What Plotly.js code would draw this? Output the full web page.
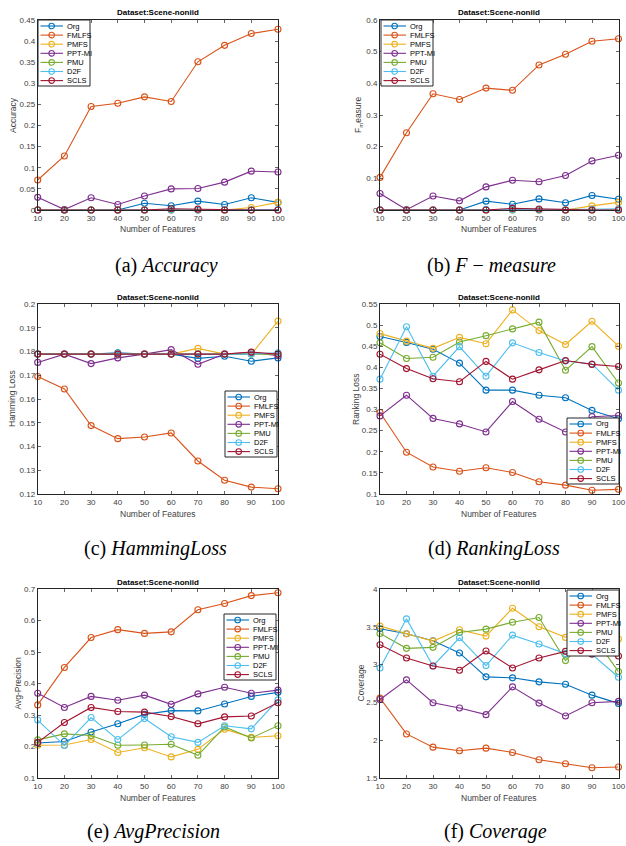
<!DOCTYPE html>
<html>
<head>
<meta charset="utf-8">
<script src="https://cdn.plot.ly/plotly-3.0.1.min.js"></script>
<style>html,body{margin:0;padding:0;background:#fff;}#chart{width:626px;height:846px;}</style>
</head>
<body>
<div id="chart"></div>
<script>
// ---------------- DATA ----------------
const features = [10, 20, 30, 40, 50, 60, 70, 80, 90, 100];
const methods = ['Org', 'FMLFS', 'PMFS', 'PPT-MI', 'PMU', 'D2F', 'SCLS'];

// order of rows: Org, FMLFS, PMFS, PPT-MI, PMU, D2F, SCLS
const accuracy = [
  [0, 0, 0, 0, 0.016, 0.010, 0.021, 0.013, 0.029, 0.018],
  [0.071, 0.128, 0.245, 0.253, 0.268, 0.257, 0.351, 0.390, 0.418, 0.428],
  [0, 0, 0, 0, 0, 0, 0, 0, 0.006, 0.018],
  [0.030, 0.001, 0.029, 0.013, 0.033, 0.050, 0.051, 0.066, 0.092, 0.090],
  [0, 0, 0, 0, 0, 0, 0, 0, 0, 0],
  [0, 0, 0, 0, 0, 0, 0, 0, 0, 0.001],
  [0, 0, 0, 0, 0, 0.003, 0.002, 0, 0, 0]
];
const fMeasure = [
  [0, 0, 0, 0, 0.028, 0.018, 0.035, 0.023, 0.046, 0.034],
  [0.103, 0.244, 0.367, 0.349, 0.385, 0.378, 0.458, 0.492, 0.533, 0.541],
  [0, 0, 0, 0, 0, 0, 0, 0, 0.013, 0.024],
  [0.052, 0.001, 0.044, 0.029, 0.073, 0.094, 0.089, 0.109, 0.155, 0.173],
  [0, 0, 0, 0, 0, 0, 0, 0, 0, 0],
  [0, 0, 0, 0, 0.002, 0.001, 0.001, 0, 0.002, 0.004],
  [0, 0, 0, 0, 0, 0.005, 0.003, 0, 0, 0]
];
const hammingLoss = [
  [0.1789, 0.1789, 0.1789, 0.1795, 0.1789, 0.1789, 0.1771, 0.1780, 0.1759, 0.1773],
  [0.1695, 0.1642, 0.1488, 0.1433, 0.1440, 0.1457, 0.1339, 0.1258, 0.1229, 0.1222],
  [0.1789, 0.1789, 0.1789, 0.1789, 0.1789, 0.1789, 0.1813, 0.1789, 0.1789, 0.1928],
  [0.1754, 0.1789, 0.1749, 0.1773, 0.1789, 0.1808, 0.1746, 0.1789, 0.1796, 0.1782],
  [0.1789, 0.1789, 0.1789, 0.1789, 0.1789, 0.1789, 0.1789, 0.1789, 0.1789, 0.1789],
  [0.1789, 0.1789, 0.1789, 0.1789, 0.1789, 0.1789, 0.1789, 0.1789, 0.1789, 0.1794],
  [0.1789, 0.1789, 0.1789, 0.1789, 0.1789, 0.1789, 0.1789, 0.1789, 0.1798, 0.1789]
];
const rankingLoss = [
  [0.473, 0.459, 0.443, 0.410, 0.346, 0.346, 0.334, 0.328, 0.298, 0.278],
  [0.293, 0.199, 0.164, 0.154, 0.162, 0.151, 0.129, 0.121, 0.109, 0.111],
  [0.480, 0.462, 0.445, 0.471, 0.456, 0.536, 0.487, 0.454, 0.509, 0.450],
  [0.285, 0.334, 0.279, 0.266, 0.247, 0.319, 0.277, 0.247, 0.283, 0.286],
  [0.458, 0.421, 0.424, 0.460, 0.475, 0.491, 0.507, 0.393, 0.449, 0.363],
  [0.372, 0.496, 0.379, 0.449, 0.379, 0.458, 0.435, 0.415, 0.408, 0.346],
  [0.431, 0.397, 0.373, 0.366, 0.414, 0.372, 0.394, 0.416, 0.407, 0.402]
];
const avgPrecision = [
  [0.211, 0.216, 0.246, 0.272, 0.302, 0.314, 0.313, 0.335, 0.359, 0.372],
  [0.332, 0.451, 0.546, 0.571, 0.559, 0.564, 0.634, 0.654, 0.679, 0.688],
  [0.204, 0.205, 0.222, 0.181, 0.196, 0.167, 0.191, 0.255, 0.229, 0.234],
  [0.369, 0.324, 0.359, 0.347, 0.363, 0.334, 0.367, 0.388, 0.369, 0.379],
  [0.221, 0.240, 0.235, 0.204, 0.205, 0.207, 0.172, 0.262, 0.227, 0.266],
  [0.284, 0.203, 0.292, 0.222, 0.289, 0.231, 0.213, 0.266, 0.256, 0.348],
  [0.213, 0.276, 0.324, 0.311, 0.309, 0.295, 0.272, 0.294, 0.297, 0.339]
];
const coverage = [
  [3.474, 3.408, 3.316, 3.154, 2.838, 2.825, 2.772, 2.741, 2.596, 2.487],
  [2.557, 2.083, 1.908, 1.860, 1.895, 1.838, 1.741, 1.689, 1.636, 1.645],
  [3.509, 3.408, 3.311, 3.461, 3.377, 3.746, 3.500, 3.360, 3.620, 3.338],
  [2.539, 2.798, 2.496, 2.425, 2.338, 2.706, 2.491, 2.320, 2.496, 2.513],
  [3.412, 3.215, 3.228, 3.425, 3.469, 3.561, 3.623, 3.053, 3.400, 2.908],
  [2.956, 3.605, 2.982, 3.355, 2.987, 3.390, 3.272, 3.145, 3.136, 2.833],
  [3.263, 3.088, 2.982, 2.925, 3.180, 2.956, 3.088, 3.175, 3.140, 3.114]
];

// ---------------- STYLE / LAYOUT ----------------
const colors = ['#0072BD', '#D95319', '#EDB120', '#7E2F8E', '#77AC30', '#4DBEEE', '#A2142F'];
const W = 626, H = 846;
const PX = v => v / W, PY = v => 1 - v / H;
const colX = [[37.7, 278], [380, 618.5]];
const rowY = [[20, 210], [304, 494], [589, 778]];
const capY = [265, 548, 831];
const sans = 'Liberation Sans, Arial, sans-serif';
const serif = 'Liberation Serif, Times New Roman, serif';

const panels = [
  {data: accuracy, yr: [0, 0.45], dt: 0.05, yt: 'Accuracy', ytx: 13, col: 0, row: 0, lg: [38, 20], cap: '(a) <i>Accuracy</i>', capx: 166},
  {data: fMeasure, yr: [0, 0.6], dt: 0.1, yt: 'F<sub>m</sub>easure', ytx: 358, col: 1, row: 0, lg: [381, 20], cap: '(b) <i>F</i> − <i>measure</i>', capx: 491},
  {data: hammingLoss, yr: [0.12, 0.2], dt: 0.01, yt: 'Hamming Loss', ytx: 12, col: 0, row: 1, lg: [225, 391], cap: '(c) <i>HammingLoss</i>', capx: 155},
  {data: rankingLoss, yr: [0.1, 0.55], dt: 0.05, yt: 'Ranking Loss', ytx: 356, col: 1, row: 1, lg: [567, 418], cap: '(d) <i>RankingLoss</i>', capx: 494},
  {data: avgPrecision, yr: [0.1, 0.7], dt: 0.1, yt: 'Avg-Precision', ytx: 17, col: 0, row: 2, lg: [224, 614], cap: '(e) <i>AvgPrecision</i>', capx: 153},
  {data: coverage, yr: [1.5, 4], dt: 0.5, yt: 'Coverage', ytx: 360, col: 1, row: 2, lg: [567, 590], cap: '(f) <i>Coverage</i>', capx: 495}
];

const traces = [];
const layout = {
  width: W, height: H,
  margin: {l: 0, r: 0, t: 0, b: 0},
  paper_bgcolor: '#ffffff', plot_bgcolor: '#ffffff',
  showlegend: false,
  annotations: [], shapes: []
};

const axisCommon = {
  ticks: 'inside', ticklen: 3, tickwidth: 0.7, tickcolor: '#262626',
  showline: true, linecolor: '#262626', linewidth: 1, mirror: 'ticks',
  showgrid: false, zeroline: false, fixedrange: true,
  ticklabeloverflow: 'allow',
  tickfont: {family: sans, size: 8, color: '#404040'}
};

panels.forEach((p, i) => {
  const n = i + 1;
  const xa = 'xaxis' + (n > 1 ? n : ''), ya = 'yaxis' + (n > 1 ? n : '');
  const xr = 'x' + (n > 1 ? n : ''), yr = 'y' + (n > 1 ? n : '');
  const [x0, x1] = colX[p.col];
  const [y0, y1] = rowY[p.row];
  layout[xa] = Object.assign({}, axisCommon, {
    domain: [PX(x0), PX(x1)], range: [10, 100], tick0: 10, dtick: 10, anchor: yr
  });
  layout[ya] = Object.assign({}, axisCommon, {
    domain: [PY(y1), PY(y0)], range: p.yr, tick0: p.yr[0], dtick: p.dt, anchor: xr
  });
  p.data.forEach((vals, m) => {
    traces.push({
      x: features, y: vals, name: methods[m], xaxis: xr, yaxis: yr,
      type: 'scatter', mode: 'lines+markers', cliponaxis: false,
      line: {color: colors[m], width: 1.1},
      marker: {symbol: 'circle-open', size: 6, color: colors[m], line: {width: 1.1, color: colors[m]}},
      hoverinfo: 'skip'
    });
  });
  // subplot title
  layout.annotations.push({
    xref: 'paper', yref: 'paper', x: PX((x0 + x1) / 2), y: PY(y0 - 7),
    text: '<b>Dataset:Scene-noniid</b>', showarrow: false,
    font: {family: sans, size: 8, color: '#000'}, xanchor: 'center', yanchor: 'middle'
  });
  // x title
  layout.annotations.push({
    xref: 'paper', yref: 'paper', x: PX((x0 + x1) / 2), y: PY(y1 + 19.5),
    text: 'Number of Features', showarrow: false,
    font: {family: sans, size: 8.5, color: '#404040'}, xanchor: 'center', yanchor: 'middle'
  });
  // y title
  layout.annotations.push({
    xref: 'paper', yref: 'paper', x: PX(p.ytx), y: PY((y0 + y1) / 2),
    text: p.yt, showarrow: false, textangle: -90,
    font: {family: sans, size: 8.5, color: '#404040'}, xanchor: 'center', yanchor: 'middle'
  });
  // caption
  layout.annotations.push({
    xref: 'paper', yref: 'paper', x: PX(p.capx), y: PY(capY[p.row]),
    text: p.cap, showarrow: false,
    font: {family: serif, size: 20, color: '#000'}, xanchor: 'center', yanchor: 'middle'
  });
  // legend box
  const [lx, ly] = p.lg;
  const lw = 52, lh = 66;
  layout.shapes.push({
    type: 'rect', xref: 'paper', yref: 'paper',
    x0: PX(lx), x1: PX(lx + lw), y0: PY(ly + lh), y1: PY(ly),
    fillcolor: '#ffffff', line: {color: '#262626', width: 1}, layer: 'above'
  });
  methods.forEach((name, m) => {
    const cy = ly + 6 + m * 9.1;
    layout.shapes.push({
      type: 'line', xref: 'paper', yref: 'paper',
      x0: PX(lx + 2.5), x1: PX(lx + 25), y0: PY(cy), y1: PY(cy),
      line: {color: colors[m], width: 1.1}, layer: 'above'
    });
    const r = 2.8, cx = lx + 13.7;
    layout.shapes.push({
      type: 'circle', xref: 'paper', yref: 'paper',
      x0: PX(cx - r), x1: PX(cx + r), y0: PY(cy + r), y1: PY(cy - r),
      fillcolor: 'rgba(0,0,0,0)', line: {color: colors[m], width: 1.1}, layer: 'above'
    });
    layout.annotations.push({
      xref: 'paper', yref: 'paper', x: PX(lx + 27), y: PY(cy),
      text: name, showarrow: false, xanchor: 'left', yanchor: 'middle',
      font: {family: sans, size: 7.5, color: '#000'}
    });
  });
});

Plotly.newPlot('chart', traces, layout, {staticPlot: true, displayModeBar: false});
</script>
</body>
</html>
